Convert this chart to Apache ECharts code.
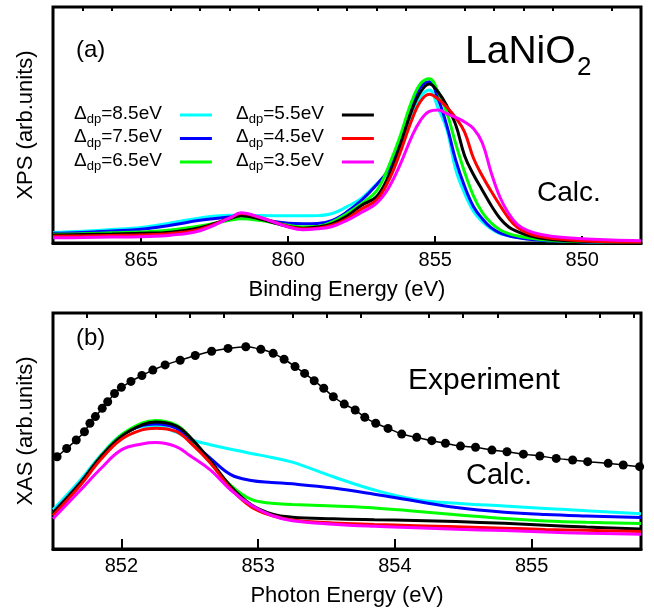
<!DOCTYPE html>
<html>
<head>
<meta charset="utf-8">
<style>
  html, body { margin: 0; padding: 0; background: #fff; }
  #chart { width: 654px; height: 608px; }
</style>
<script src="https://cdn.jsdelivr.net/npm/echarts@6/dist/echarts.min.js"></script>
</head>
<body>
<div id="chart"></div>
<script>
// (a) XPS, binding energy runs right to left
const xpsE = [868, 867, 866, 865, 864, 863, 862, 861.6, 861, 860, 859.5, 859, 858.5, 858, 857.5, 857, 856.6, 856.2, 855.8, 855.5, 855.2, 854.9, 854.6, 854.3, 854.0, 853.7, 853.4, 853.1, 852.8, 852.5, 852.2, 851.8, 851.4, 851, 850, 849, 848]
const xps85 = [4.5, 5.0, 5.7, 6.6, 8.5, 10.6, 11.8, 11.8, 11.6, 11.5, 11.5, 11.6, 12.5, 15.4, 19, 25, 30, 41, 55, 62, 64.8, 57, 48, 31, 21, 13.5, 9, 6, 4, 3.1, 2.3, 1.7, 1.2, 0.9, 0.5, 0.3, 0.2]
const xps75 = [4.1, 4.5, 5.1, 5.8, 7.5, 9.6, 11, 11.6, 10.3, 8.4, 8.2, 8.3, 9.6, 13.2, 18.2, 24.6, 31, 43, 58, 66, 68.3, 61, 49.5, 35, 24, 15.5, 10.3, 6.5, 4.3, 3.1, 2.3, 1.6, 1.2, 0.9, 0.5, 0.3, 0.2]
const xps65 = [3.7, 3.9, 4.3, 4.7, 5.5, 7.2, 9.6, 10.3, 9.6, 7.5, 6.8, 7, 8.9, 12.5, 16.8, 22, 32, 45, 60, 67.5, 69.6, 64, 55, 42, 30, 20, 13, 8.5, 5.6, 4, 3, 2.1, 1.5, 1.1, 0.6, 0.4, 0.3]
const xps55 = [3.4, 3.6, 3.8, 4.1, 4.6, 6.5, 10.3, 11.5, 10.3, 7, 6.3, 6.8, 8.2, 11.4, 16, 19.6, 28, 41, 56, 64, 67.4, 64, 58, 50, 37, 29, 22.5, 16, 10.5, 6.8, 4.8, 3, 2, 1.4, 0.7, 0.4, 0.3]
const xps45 = [2.9, 3.0, 3.2, 3.4, 4, 5.8, 10.5, 12.5, 11, 7, 6, 6.3, 7.5, 10.3, 14.5, 18.2, 26, 38, 52, 60, 63, 61, 57.5, 53, 47, 36, 28.5, 22, 16, 10.5, 6.5, 4, 2.7, 1.9, 0.9, 0.5, 0.4]
const xps35 = [2.2, 2.3, 2.5, 2.7, 3.3, 5.2, 10.5, 12.8, 11, 6.8, 5.6, 6, 7, 9.6, 13, 16.8, 23, 33, 45, 52, 55.8, 56.4, 54.8, 53.2, 51.3, 48.5, 42.5, 30, 19.5, 12.5, 7.8, 5, 3.6, 2.8, 1.8, 1.3, 1.0]

// (b) XAS
const xasE = [851.5, 851.7, 851.85, 852.0, 852.15, 852.25, 852.4, 852.5, 852.65, 852.8, 852.95, 853.1, 853.25, 853.55, 853.85, 854.15, 854.45, 854.8, 855.1, 855.4, 855.8]
const xas85 = [16.6, 29.2, 39.8, 48.4, 51.9, 52.2, 49.5, 46.5, 44.2, 42.3, 40.5, 38.8, 36.8, 30.6, 25, 21, 19.4, 18.2, 17.2, 16.2, 14.9]
const xas75 = [15.5, 28.2, 39.2, 48, 52.3, 53, 51.2, 46, 38.5, 31.5, 29, 28.2, 27.6, 25.8, 23.2, 20.3, 17.6, 15.6, 14.6, 14, 13.4]
const xas65 = [15.2, 28, 39.3, 48.3, 53.3, 54.5, 52.6, 47.5, 36.5, 27, 21, 19.4, 18.9, 18.2, 17.4, 16, 14.5, 12.9, 11.9, 11.3, 10.8]
const xas55 = [15.2, 28, 39.1, 47.7, 52.6, 53.8, 52.2, 47.5, 37.5, 26.5, 18.8, 14.9, 13.5, 12.8, 12.4, 12.1, 11.6, 10.9, 10.1, 9.3, 8.5]
const xas45 = [14.2, 27, 38, 46.5, 50.5, 51.2, 49.8, 45.3, 36.5, 25.5, 17.8, 14.2, 12.3, 11, 10.4, 9.9, 9.4, 8.8, 8.3, 7.9, 7.4]
const xas35 = [12.8, 24.9, 34.1, 42, 44.5, 45.1, 43.4, 39.6, 33.5, 25, 18.5, 14.2, 12, 10.5, 9.6, 9, 8.4, 7.8, 7.2, 6.7, 6.2]

const expE = [851.53, 851.60, 851.67, 851.73, 851.77, 851.81, 851.86, 851.90, 851.95, 852.00, 852.07, 852.15, 852.23, 852.32, 852.43, 852.54, 852.66, 852.78, 852.91, 853.02, 853.11, 853.19, 853.27, 853.34, 853.41, 853.48, 853.55, 853.63, 853.71, 853.78, 853.86, 853.95, 854.05, 854.16, 854.27, 854.37, 854.48, 854.59, 854.71, 854.82, 854.94, 855.06, 855.18, 855.30, 855.41, 855.56, 855.67, 855.79]
const expV = [39.1, 42.6, 46.2, 49.7, 53.3, 56.1, 59.6, 62.4, 65.9, 68.5, 71, 73.5, 75.8, 78, 80, 82, 83.8, 85, 85.7, 84.6, 82.9, 80.4, 77.3, 74.4, 71.3, 68.1, 64.5, 61.4, 58.9, 55.8, 53.3, 51.1, 48.7, 47.3, 45.9, 44.8, 43.6, 43.1, 41.9, 41.2, 40.2, 39.4, 38.4, 37.7, 37.0, 36.3, 35.6, 34.9]

const names = ['Δdp=8.5eV', 'Δdp=7.5eV', 'Δdp=6.5eV', 'Δdp=5.5eV', 'Δdp=4.5eV', 'Δdp=3.5eV']
const colors = ['#00ffff', '#0000ff', '#00ff00', '#000000', '#ff0000', '#ff00ff']
const xpsTicks = [850, 855, 860, 865]
const xpsMinor = [849, 851, 852, 853, 854, 856, 857, 858, 859, 861, 862, 863, 864, 866, 867]
const xasTicks = [852, 853, 854, 855]
const xasMinor = [851.75, 852.25, 852.5, 852.75, 853.25, 853.5, 853.75, 854.25, 854.5, 854.75, 855.25, 855.5, 855.75]

const font = 'Liberation Sans, Arial, sans-serif'
const chart = echarts.init(document.getElementById('chart'))

const pairs = (xs, ys) => xs.map((x, i) => [x, ys[i]])

function majorAxis(grid, min, max, inverse, ticks, tickLen, title) {
  return {
    type: 'value', gridIndex: grid, min: min, max: max, inverse: inverse,
    axisLine: { lineStyle: { color: '#000', width: 3 } },
    axisTick: { inside: true, length: tickLen, customValues: ticks, lineStyle: { color: '#000', width: 2 } },
    axisLabel: { customValues: ticks, color: '#000', fontSize: 20, margin: 7, fontFamily: font },
    splitLine: { show: false },
    name: title, nameLocation: 'middle', nameGap: 36,
    nameTextStyle: { color: '#000', fontSize: 22, fontFamily: font }
  }
}
function minorAxis(grid, min, max, inverse, ticks, tickLen) {
  return {
    type: 'value', gridIndex: grid, min: min, max: max, inverse: inverse,
    axisLine: { show: false },
    axisTick: { inside: true, length: tickLen, customValues: ticks, lineStyle: { color: '#000', width: 2 } },
    axisLabel: { show: false },
    splitLine: { show: false }
  }
}
function yAxis(grid, title) {
  return {
    type: 'value', gridIndex: grid, min: 0, max: 100,
    axisLine: { show: false }, axisTick: { show: false }, axisLabel: { show: false },
    splitLine: { show: false },
    name: title, nameLocation: 'middle', nameGap: 16, nameRotate: 90,
    nameTextStyle: { color: '#000', fontSize: 22, fontFamily: font }
  }
}

const legendText = {
  color: '#000', fontFamily: font, padding: [0, 13, 0, 0],
  rich: {
    a: { fontSize: 19, lineHeight: 22, verticalAlign: 'top', fontFamily: font, color: '#000' },
    s: { fontSize: 13, lineHeight: 14, verticalAlign: 'bottom', fontFamily: font, color: '#000' }
  }
}
function legend(left, data) {
  return {
    data: data, left: left, top: 104, padding: 0, orient: 'vertical', align: 'right',
    itemWidth: 32, itemHeight: 3, itemGap: 1.5, icon: 'rect', selectedMode: false,
    textStyle: legendText,
    formatter: n => '{a|Δ}{s|dp}{a|' + n.slice(3) + '}'
  }
}

const xpsData = [xps85, xps75, xps65, xps55, xps45, xps35]
const xasData = [xas85, xas75, xas65, xas55, xas45, xas35]
const series = []
xpsData.forEach((d, i) => {
  series.push({
    name: names[i], type: 'line', xAxisIndex: 0, yAxisIndex: 0, data: pairs(xpsE, d),
    symbol: 'none', smooth: 0.4, color: colors[i],
    lineStyle: { width: 3, color: colors[i] }
  })
})
xasData.forEach((d, i) => {
  series.push({
    name: names[i], type: 'line', xAxisIndex: 2, yAxisIndex: 1, data: pairs(xasE, d),
    symbol: 'none', smooth: 0.4, color: colors[i],
    lineStyle: { width: 3, color: colors[i] }
  })
})
series.push({
  name: 'Experiment', type: 'line', xAxisIndex: 2, yAxisIndex: 1, data: pairs(expE, expV),
  symbol: 'circle', symbolSize: 9, showAllSymbol: true, smooth: 0.3,
  itemStyle: { color: '#000' }, lineStyle: { width: 1.5, color: '#000' }, z: 3
})

chart.setOption({
  animation: false,
  backgroundColor: '#fff',
  grid: [
    { left: 53, right: 13, top: 7, height: 236, show: true, borderColor: '#000', borderWidth: 3 },
    { left: 53, right: 13, top: 313, height: 236, show: true, borderColor: '#000', borderWidth: 3 }
  ],
  xAxis: [
    majorAxis(0, 848, 868, true, xpsTicks, 7, 'Binding Energy (eV)'),
    minorAxis(0, 848, 868, true, xpsMinor, 4),
    majorAxis(1, 851.5, 855.8, false, xasTicks, 10, 'Photon Energy (eV)'),
    minorAxis(1, 851.5, 855.8, false, xasMinor, 5)
  ],
  yAxis: [yAxis(0, 'XPS (arb.units)'), yAxis(1, 'XAS (arb.units)')],
  legend: [legend(74, names.slice(0, 3)), legend(236, names.slice(3))],
  graphic: [
    { type: 'text', left: 76, top: 38, style: { text: '(a)', fontSize: 24, fontFamily: font, fill: '#000' } },
    { type: 'text', left: 76, top: 326, style: { text: '(b)', fontSize: 24, fontFamily: font, fill: '#000' } },
    { type: 'text', left: 465, top: 33, style: { text: 'LaNiO', fontSize: 39, fontFamily: font, fill: '#000' } },
    { type: 'text', left: 577, top: 55, style: { text: '2', fontSize: 26, fontFamily: font, fill: '#000' } },
    { type: 'text', left: 537, top: 179, style: { text: 'Calc.', fontSize: 28, fontFamily: font, fill: '#000' } },
    { type: 'text', left: 408, top: 366, style: { text: 'Experiment', fontSize: 30, fontFamily: font, fill: '#000' } },
    { type: 'text', left: 466, top: 461, style: { text: 'Calc.', fontSize: 29, fontFamily: font, fill: '#000' } }
  ],
  series: series
})
</script>
</body>
</html>
